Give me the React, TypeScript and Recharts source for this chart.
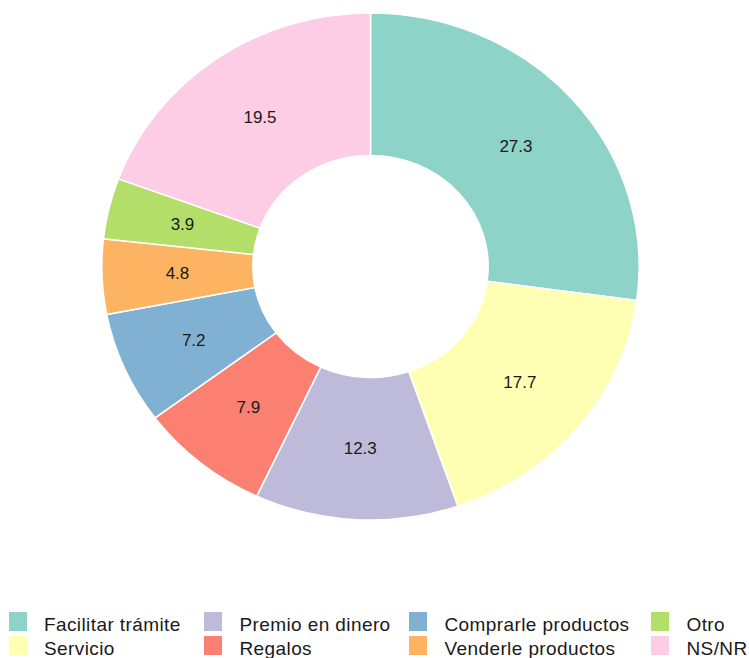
import { PieChart, Pie, Cell, Sector, Legend } from "recharts";

const categories = [
  "Facilitar trámite",
  "Servicio",
  "Premio en dinero",
  "Regalos",
  "Comprarle productos",
  "Venderle productos",
  "Otro",
  "NS/NR",
];
const values = [27.3, 17.7, 12.3, 7.9, 7.2, 4.8, 3.9, 19.5];
const colors = [
  "#8DD3C7",
  "#FFFFB3",
  "#BEBADA",
  "#FB8072",
  "#80B1D3",
  "#FDB462",
  "#B3DE69",
  "#FCCDE5",
];

const data = categories.map((name, i) => ({ name, value: values[i] }));

// ggplot's polar panel is a bit wider than tall
const SX = 1.06;
const FONT = "'Liberation Sans', Arial, sans-serif";
const RAD = Math.PI / 180;

function StretchedSector(props: any) {
  const { cx, cy } = props;
  return (
    <g transform={`translate(${cx} ${cy}) scale(${SX} 1) translate(${-cx} ${-cy})`}>
      <Sector {...props} />
    </g>
  );
}

function renderLabel(props: any) {
  const { cx, cy, midAngle, innerRadius, outerRadius, value } = props;
  const r = (innerRadius + outerRadius) / 2;
  const x = cx + r * Math.cos(-midAngle * RAD) * SX;
  const y = cy + r * Math.sin(-midAngle * RAD);
  return (
    <text
      x={x}
      y={y}
      textAnchor="middle"
      dominantBaseline="central"
      fill="#1a1a1a"
      fontSize={17}
      fontFamily={FONT}
    >
      {value.toFixed(1)}
    </text>
  );
}

const legendCols = [8.5, 204, 409, 651];
const legendRows = [612, 636];

function LegendBox() {
  return (
    <div style={{ position: "relative", width: 749, height: 58 }}>
      {categories.map((name, i) => {
        const col = Math.floor(i / 2);
        const row = i % 2;
        const x = legendCols[col];
        const y = legendRows[row] - 600;
        return (
          <div key={name}>
            <div
              style={{
                position: "absolute",
                left: x,
                top: y,
                width: 18,
                height: 19,
                background: colors[i],
              }}
            />
            <div
              style={{
                position: "absolute",
                left: x + 35.5,
                top: y + 1.5,
                fontSize: 19,
                lineHeight: "22px",
                letterSpacing: 0.4,
                fontFamily: FONT,
                color: "#1a1a1a",
                whiteSpace: "nowrap",
              }}
            >
              {name}
            </div>
          </div>
        );
      })}
    </div>
  );
}

export default function App() {
  return (
    <div style={{ position: "absolute", left: 0, top: 0, width: 749, height: 658, background: "#fff" }}>
      <PieChart width={749} height={658} margin={{ top: 0, right: 0, bottom: 0, left: 0 }}>
        <Pie
          data={data}
          dataKey="value"
          nameKey="name"
          cx={370.5}
          cy={266.5}
          innerRadius={111}
          outerRadius={253.5}
          startAngle={90}
          endAngle={-270}
          stroke="#ffffff"
          strokeWidth={1.5}
          shape={StretchedSector}
          label={renderLabel}
          labelLine={false}
          isAnimationActive={false}
        >
          {data.map((d, i) => (
            <Cell key={d.name} fill={colors[i]} />
          ))}
        </Pie>
        <Legend
          content={() => <LegendBox />}
          wrapperStyle={{ position: "absolute", left: 0, top: 600, width: 749, height: 58 }}
        />
      </PieChart>
    </div>
  );
}
